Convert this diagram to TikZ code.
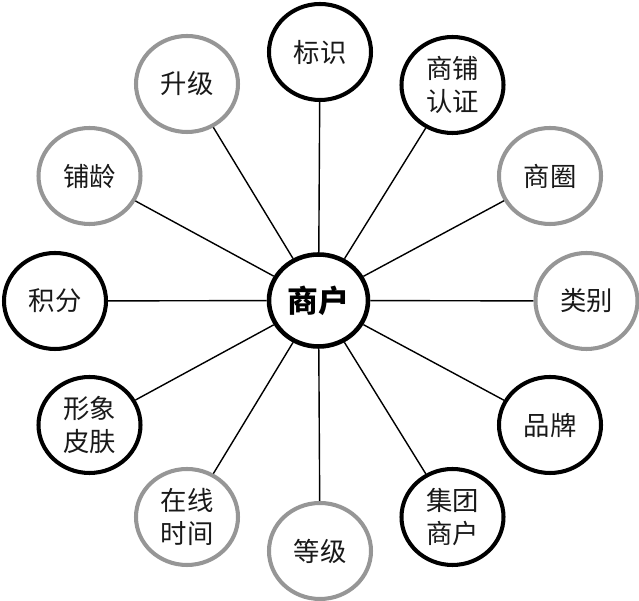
\documentclass[tikz,border=0pt]{standalone}
\usepackage{fontspec}
\newfontfamily\cjk{Noto Sans CJK SC}
\usetikzlibrary{shapes.geometric}
\definecolor{ringgray}{RGB}{150,150,150}

\begin{document}
\begin{tikzpicture}[
        item/.style={draw, ellipse, line width=2.3pt, fill=white, inner sep=0pt,
            minimum width=2.04cm, minimum height=1.92cm, align=center,
            font=\cjk\fontsize{15}{19}\selectfont, text=black!90},
        dark/.style={item, draw=black},
        light/.style={item, draw=ringgray},
        hub/.style={item, draw=black, line width=2.6pt, minimum width=1.98cm, minimum height=1.84cm,
            font=\cjk\bfseries\fontsize{17.5}{21}\selectfont, text=black},
        link/.style={line width=0.8pt, black},
    ]
        \useasboundingbox (0,0) rectangle (12.78,-12.02);

        % Centre
        \node[hub] (shanghu) at (6.37, -6.01) {商户};

        % Ring, clockwise from top
        \node[dark] (biaoshi) at (6.40, -1.04) {标识};
        \node[dark] (renzheng) at (9.05, -1.70) {商铺\\认证};
        \node[light] (shangquan) at (11.00, -3.52) {商圈};
        \node[light] (leibie) at (11.73, -6.02) {类别};
        \node[dark] (pinpai) at (11.00, -8.50) {品牌};
        \node[dark] (jituan) at (9.05, -10.34) {集团\\商户};
        \node[light] (dengji) at (6.40, -11.02) {等级};
        \node[light] (zaixian) at (3.74, -10.34) {在线\\时间};
        \node[dark] (xingxiang) at (1.79, -8.50) {形象\\皮肤};
        \node[dark] (jifen) at (1.10, -6.02) {积分};
        \node[light] (puling) at (1.79, -3.52) {铺龄};
        \node[light] (shengji) at (3.74, -1.68) {升级};

        % Spokes
        \foreach \n in {biaoshi, renzheng, shangquan, leibie, pinpai, jituan,
                        dengji, zaixian, xingxiang, jifen, puling, shengji}
            \draw[link] (shanghu) -- (\n);
    \end{tikzpicture}
\end{document}
